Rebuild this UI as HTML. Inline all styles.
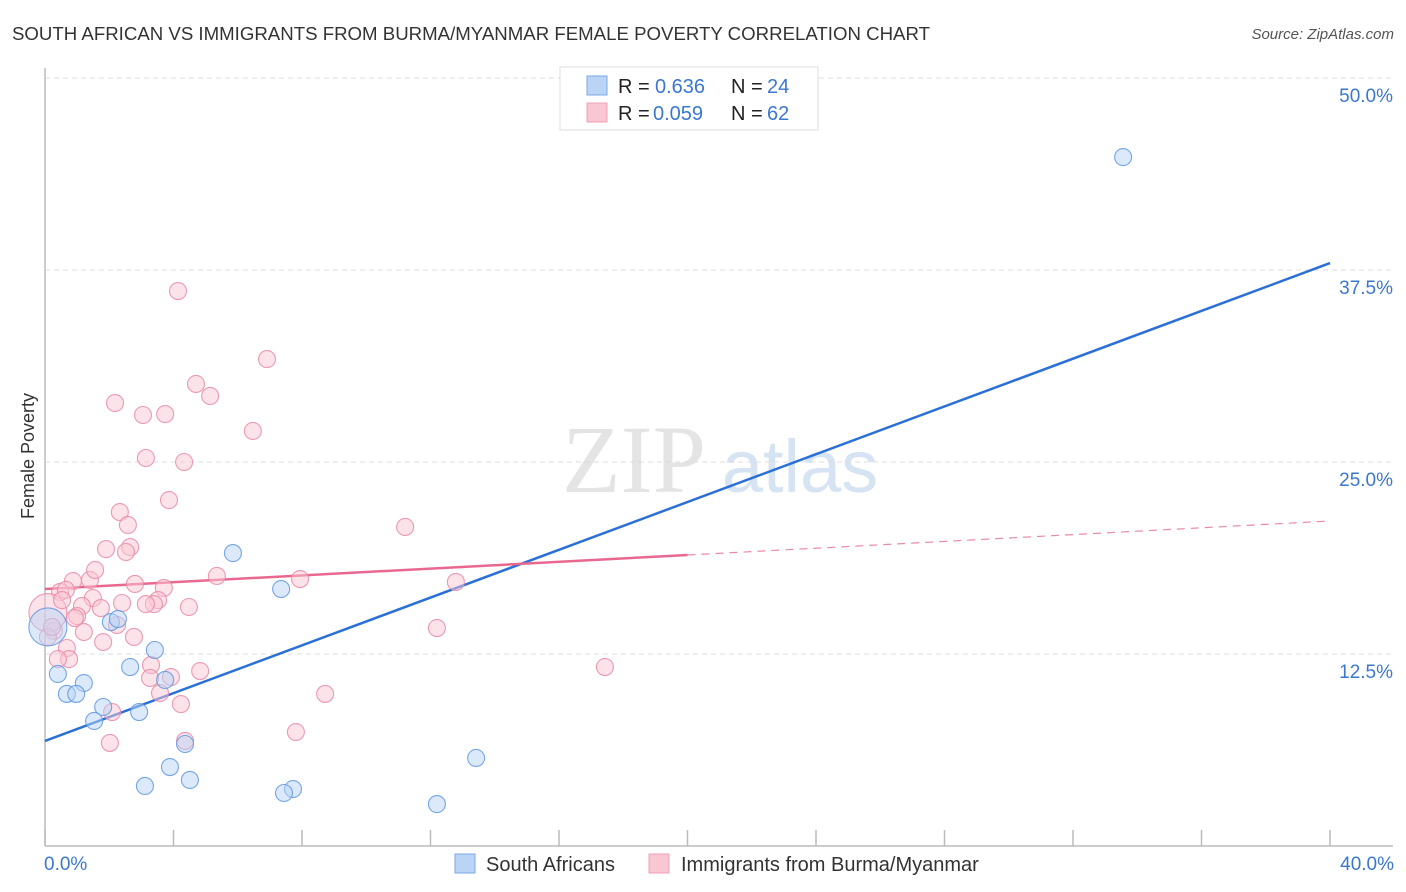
<!DOCTYPE html>
<html><head><meta charset="utf-8">
<style>
body{margin:0;background:#fff;font-family:"Liberation Sans",sans-serif;}
svg{display:block}
</style></head>
<body>
<svg id="chart" width="1406" height="892" xmlns="http://www.w3.org/2000/svg">
<text x="12" y="40" font-size="18" fill="#333" textLength="918" lengthAdjust="spacingAndGlyphs">SOUTH AFRICAN VS IMMIGRANTS FROM BURMA/MYANMAR FEMALE POVERTY CORRELATION CHART</text>
<text x="1394" y="39" font-size="15" fill="#555" font-style="italic" text-anchor="end">Source: ZipAtlas.com</text>
<text x="34" y="456" font-size="18" fill="#333" text-anchor="middle" transform="rotate(-90 34 456)">Female Poverty</text>
<g>
<text x="634" y="492" font-size="96" fill="#e4e4e4" text-anchor="middle" font-family="Liberation Serif,serif">ZIP</text>
<text x="800" y="492" font-size="74" fill="#d5e3f3" text-anchor="middle">atlas</text>
</g>
<g id="grid"></g>
<g id="axes"></g>
<g id="lines"></g>
<g id="points"></g>
<g>
<rect x="560" y="67" width="258" height="63" fill="#fff" stroke="#ddd"/>
<rect x="587" y="76" width="20" height="19" fill="#b9d4f5" stroke="#7aaae6"/>
<rect x="587" y="103" width="20" height="19" fill="#f9c6d4" stroke="#eda0b6"/>
<text y="93" font-size="20"><tspan x="618" fill="#222">R = </tspan><tspan x="655" fill="#3a78d0">0.636</tspan><tspan x="731" fill="#222">N = </tspan><tspan x="767" fill="#3a78d0">24</tspan></text>
<text y="120" font-size="20"><tspan x="618" fill="#222">R = </tspan><tspan x="653" fill="#3a78d0">0.059</tspan><tspan x="731" fill="#222">N = </tspan><tspan x="767" fill="#3a78d0">62</tspan></text>
</g>
<g>
<rect x="455" y="854" width="20" height="19" fill="#b9d4f5" stroke="#7aaae6"/>
<text x="486" y="871" font-size="20" fill="#333">South Africans</text>
<rect x="649" y="854" width="20" height="19" fill="#f9c6d4" stroke="#eda0b6"/>
<text x="681" y="871" font-size="20" fill="#333">Immigrants from Burma/Myanmar</text>
</g>
</svg>
<script>
const yTicks=[12.5,25,37.5,50];
const yTickLabels=["12.5%","25.0%","37.5%","50.0%"];
const xTicks=[0,4,8,12,16,20,24,28,32,36,40];
const xEndLabels=["0.0%","40.0%"];
const blueX=[33.56,5.85,7.35,2.05,2.27,3.42,0.40,1.21,0.68,0.97,2.65,3.74,1.81,2.93,1.53,4.36,3.89,13.42,4.51,3.11,7.72,7.44,12.20,0.09];
const blueY=[44.85,19.07,16.73,14.58,14.78,12.76,11.20,10.61,9.90,9.90,11.65,10.81,9.05,8.72,8.14,6.64,5.14,5.73,4.30,3.91,3.71,3.45,2.73,14.26];
const pinkX=[4.14,6.91,4.70,5.14,2.18,3.05,3.74,6.47,3.14,4.33,3.86,2.33,11.21,2.58,1.90,2.65,2.52,5.35,7.94,12.79,0.87,1.40,2.80,3.70,0.47,1.56,0.65,1.49,2.40,3.52,3.39,1.15,1.74,4.48,1.00,0.93,2.24,0.28,1.21,2.77,1.81,12.20,0.68,0.75,0.40,3.30,4.83,3.27,3.92,17.43,3.58,8.72,4.23,2.09,7.81,4.36,2.02,0.09,0.09,0.22,3.14,0.53];
const pinkY=[36.13,31.70,30.08,29.30,28.84,28.06,28.12,27.02,25.26,25.00,22.52,21.74,20.77,20.90,19.33,19.46,19.14,17.58,17.38,17.19,17.25,17.32,17.06,16.80,16.54,17.97,16.67,16.14,15.82,16.01,15.75,15.62,15.49,15.56,14.97,14.84,14.39,14.00,13.93,13.61,13.28,14.19,12.89,12.17,12.17,11.78,11.39,10.94,11.00,11.65,9.96,9.90,9.24,8.72,7.42,6.84,6.71,15.2,13.61,14.26,15.75,16.01];
const blueTrend=[6.84,37.95];
const pinkTrend=[16.73,21.16];
const pinkSolidEnd=20;

const NS="http://www.w3.org/2000/svg";
const X0=45,X1=1330,Y0=846;
const sx=v=>X0+(v/40)*(X1-X0);
const sy=v=>Y0-(v/12.5)*192;
function mk(tag,attrs,parent){const e=document.createElementNS(NS,tag);for(const k in attrs)e.setAttribute(k,attrs[k]);document.getElementById(parent).appendChild(e);return e;}

yTicks.forEach((t,i)=>{
  const g=mk('line',{x1:X0,x2:1393,y1:sy(t),y2:sy(t),stroke:'#ddd','stroke-dasharray':'5,4'},'grid');
  
  
  const l=mk('text',{x:1393,y:sy(t)+24,'font-size':19,fill:'#3a78d0','text-anchor':'end'},'grid');
  l.textContent=yTickLabels[i];
  
  
});
const ya=mk('line',{x1:X0,x2:X0,y1:68,y2:846,stroke:'#bbb','stroke-width':1.5},'axes');


const xa=mk('line',{x1:X0,x2:1393,y1:846,y2:846,stroke:'#bbb','stroke-width':1.5},'axes');


xTicks.forEach(t=>{
  const tk=mk('line',{x1:sx(t),x2:sx(t),y1:830,y2:846,stroke:'#bbb','stroke-width':1.5},'axes');
  
  
});
[[0,'start',44],[40,'end',1394]].forEach((d,i)=>{
  const l=mk('text',{x:d[2],y:870,'font-size':19,fill:'#3a78d0','text-anchor':d[1]},'axes');
  l.textContent=xEndLabels[i];
  
  
});

function drawPts(xs,ys,fill,stroke,name,bigIdx){
  xs.forEach((x,i)=>{
    const c=mk('circle',{cx:sx(x),cy:sy(ys[i]),r:i===bigIdx?19:8.5,fill:fill,'fill-opacity':0.5,stroke:stroke,'stroke-width':1.1,'stroke-opacity':0.85},'points');
    
    
  });
}
drawPts(pinkX,pinkY,'#f9c6d4','#e88aa8','burma-point',57);
drawPts(blueX,blueY,'#b9d4f5','#5f98e0','south-african-point',23);

const bl=mk('line',{x1:sx(0),y1:sy(blueTrend[0]),x2:sx(40),y2:sy(blueTrend[1]),stroke:'#2a70d6','stroke-width':2.5},'lines');


const pAt=x=>pinkTrend[0]+(pinkTrend[1]-pinkTrend[0])*x/40;
const pl=mk('line',{x1:sx(0),y1:sy(pAt(0)),x2:sx(pinkSolidEnd),y2:sy(pAt(pinkSolidEnd)),stroke:'#e86890','stroke-width':2.5},'lines');


const pd=mk('line',{x1:sx(pinkSolidEnd),y1:sy(pAt(pinkSolidEnd)),x2:sx(40),y2:sy(pAt(40)),stroke:'#e88aa8','stroke-width':1.2,'stroke-dasharray':'8,6'},'lines');


</script>
</body></html>
